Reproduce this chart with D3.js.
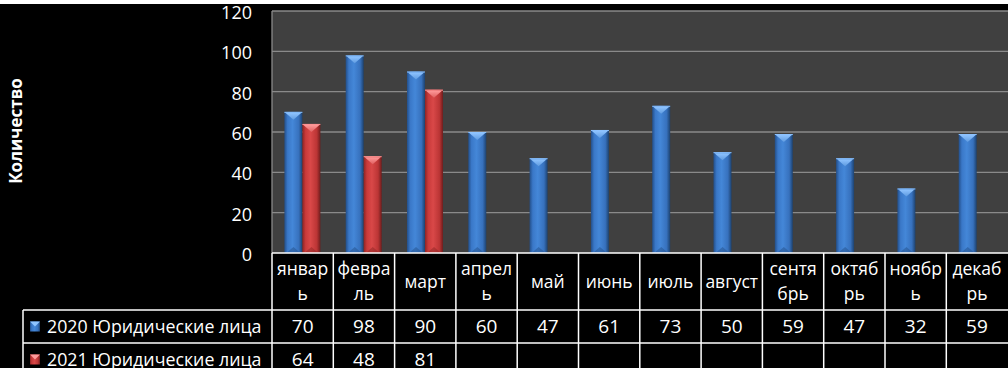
<!DOCTYPE html>
<html>
<head>
<meta charset="utf-8">
<script src="https://cdn.jsdelivr.net/npm/d3@7"></script>
<style>
  body { margin: 0; background: #fff; }
  svg { display: block; font-family: "Open Sans", "DejaVu Sans", sans-serif; }
</style>
</head>
<body>
<div id="chart"></div>
<script>
// data
const categories = ["январь", "февраль", "март", "апрель", "май", "июнь", "июль", "август", "сентябрь", "октябрь", "ноябрь", "декабрь"];
const categoryLines = [["январ", "ь"], ["февра", "ль"], ["март"], ["апрел", "ь"], ["май"], ["июнь"], ["июль"], ["август"], ["сентя", "брь"], ["октяб", "рь"], ["ноябр", "ь"], ["декаб", "рь"]];
const seriesNames = ["2020 Юридические лица", "2021 Юридические лица"];
const values2020 = [70, 98, 90, 60, 47, 61, 73, 50, 59, 47, 32, 59];
const values2021 = [64, 48, 81, null, null, null, null, null, null, null, null, null];
const yTicks = [0, 20, 40, 60, 80, 100, 120];
const yTitle = "Количество";

const series = [
  { name: seriesNames[0], values: values2020, key: "blue" },
  { name: seriesNames[1], values: values2021, key: "red" }
];

const W = 1008, H = 375;
const plotLeft = 272, plotTop = 11, plotBottom = 253;
const bandW = 61.3;
const rowTops = [253, 310, 343];
const blackTop = 4, blackBottom = 368;

const svg = d3.select("#chart").append("svg")
  .attr("width", W).attr("height", H);

// palettes
const pal = {
  blue: { stops: ["#234f8a", "#3a78c8", "#4487d8", "#3771bd", "#1d426f"], tri: "#8fc4ff", triDark: "#5f9be0" },
  red:  { stops: ["#8e2424", "#c93a3a", "#d94848", "#bb3535", "#6e1d1d"], tri: "#ff9a9a", triDark: "#e06060" }
};
const defs = svg.append("defs");
Object.keys(pal).forEach(k => {
  const g = defs.append("linearGradient").attr("id", "grad-" + k)
    .attr("x1", "0%").attr("x2", "100%").attr("y1", "0%").attr("y2", "0%");
  [0, 18, 45, 80, 100].forEach((o, i) => {
    g.append("stop").attr("offset", o + "%").attr("stop-color", pal[k].stops[i]);
  });
  const t = defs.append("linearGradient").attr("id", "tri-" + k)
    .attr("x1", "0%").attr("x2", "0%").attr("y1", "0%").attr("y2", "100%");
  t.append("stop").attr("offset", "0%").attr("stop-color", pal[k].tri);
  t.append("stop").attr("offset", "100%").attr("stop-color", pal[k].triDark);
});

// backgrounds
svg.append("rect").attr("x", 0).attr("y", blackTop).attr("width", W).attr("height", blackBottom - blackTop).attr("fill", "#000");

const x0 = d3.scaleBand().domain(categories).range([plotLeft, plotLeft + bandW * categories.length]).padding(0);
const x1 = d3.scaleBand().domain(series.map(s => s.key)).range([12.4, 48.4]).padding(0);
const y = d3.scaleLinear().domain([0, 120]).range([plotBottom, plotTop]);

svg.append("rect").attr("x", plotLeft).attr("y", plotTop)
  .attr("width", W - plotLeft).attr("height", plotBottom - plotTop).attr("fill", "#404040");

// gridlines
svg.append("g").selectAll("line").data(yTicks.filter(d => d > 0)).join("line")
  .attr("x1", plotLeft).attr("x2", W)
  .attr("y1", d => y(d)).attr("y2", d => y(d))
  .attr("stroke", "#8a8a8a").attr("stroke-width", 1.3);
svg.append("line").attr("x1", plotLeft).attr("x2", plotLeft).attr("y1", plotTop).attr("y2", plotBottom)
  .attr("stroke", "#8a8a8a").attr("stroke-width", 1.3);

// y axis
const yAxis = svg.append("g").attr("transform", `translate(${plotLeft},0)`)
  .call(d3.axisLeft(y).tickValues(yTicks).tickSize(0).tickPadding(20));
yAxis.select(".domain").remove();
yAxis.selectAll("text").attr("fill", "#fff").attr("dy", "0.42em").style("font-size", "18px")
  .style("font-family", "'Open Sans', sans-serif");

svg.append("text")
  .attr("transform", `translate(22,131) rotate(-90)`)
  .attr("text-anchor", "middle").attr("fill", "#fff")
  .style("font-size", "17px").style("font-weight", "bold")
  .text(yTitle);

// bars
function drawBar(g, bx, top, w, bottom, k) {
  g.append("rect").attr("x", bx).attr("y", top).attr("width", w).attr("height", bottom - top)
    .attr("fill", `url(#grad-${k})`);
  // top bevel
  g.append("path")
    .attr("d", `M${bx + 1},${top + 1}L${bx + w - 1},${top + 1}L${bx + w / 2},${top + 8}Z`)
    .attr("fill", `url(#tri-${k})`);
  g.append("line").attr("x1", bx).attr("x2", bx + w).attr("y1", top + 0.5).attr("y2", top + 0.5)
    .attr("stroke", pal[k].tri).attr("stroke-width", 1);
  // bottom bevel
  g.append("path")
    .attr("d", `M${bx + 2},${bottom}L${bx + w - 2},${bottom}L${bx + w / 2},${bottom - 6}Z`)
    .attr("fill", pal[k].stops[0]).attr("opacity", 0.5);
}

const barG = svg.append("g");
series.forEach(s => {
  s.values.forEach((v, i) => {
    if (v == null) return;
    const bx = x0(categories[i]) + x1(s.key);
    drawBar(barG, bx, y(v), x1.bandwidth(), y(0), s.key);
  });
});

// data table
const tbl = svg.append("g").attr("stroke", "#fff").attr("stroke-width", 1.5);
tbl.append("line").attr("x1", plotLeft).attr("x2", W).attr("y1", rowTops[0]).attr("y2", rowTops[0]);
[rowTops[1], rowTops[2]].forEach(ty => {
  tbl.append("line").attr("x1", 23).attr("x2", W).attr("y1", ty).attr("y2", ty);
});
tbl.append("line").attr("x1", 23).attr("x2", 23).attr("y1", rowTops[1]).attr("y2", blackBottom);
categories.forEach(c => {
  tbl.append("line").attr("x1", x0(c)).attr("x2", x0(c)).attr("y1", rowTops[0]).attr("y2", blackBottom);
});

const txt = svg.append("g").attr("fill", "#fff").attr("text-anchor", "middle");
categories.forEach((c, i) => {
  const cx = x0(c) + x0.bandwidth() / 2;
  const lines = categoryLines[i];
  const lh = 25;
  const mid = (rowTops[0] + rowTops[1]) / 2;
  lines.forEach((l, j) => {
    txt.append("text").attr("x", cx)
      .attr("y", mid + (j - (lines.length - 1) / 2) * lh)
      .attr("dy", "0.35em").style("font-size", "17.5px").text(l);
  });
});
series.forEach((s, si) => {
  const cy = rowTops[1] + si * 33 + 16.5;
  s.values.forEach((v, i) => {
    if (v == null) return;
    txt.append("text").attr("x", x0(categories[i]) + x0.bandwidth() / 2)
      .attr("y", cy).attr("dy", "0.35em").style("font-size", "19px").text(v);
  });
  // legend key
  const kx = 30, ky = cy - 5, ks = 10;
  svg.append("rect").attr("x", kx).attr("y", ky).attr("width", ks).attr("height", ks)
    .attr("fill", `url(#grad-${s.key})`);
  svg.append("path").attr("d", `M${kx},${ky}L${kx + ks},${ky}L${kx + ks / 2},${ky + 5}Z`)
    .attr("fill", pal[s.key].tri);
  svg.append("text").attr("x", 47).attr("y", cy).attr("dy", "0.35em")
    .attr("fill", "#fff").style("font-size", "17.8px").text(s.name);
});

// white strips over the edges
svg.append("rect").attr("x", 0).attr("y", 0).attr("width", W).attr("height", blackTop).attr("fill", "#fff");
svg.append("rect").attr("x", 0).attr("y", blackBottom).attr("width", W).attr("height", H - blackBottom).attr("fill", "#fff");
</script>
</body>
</html>
